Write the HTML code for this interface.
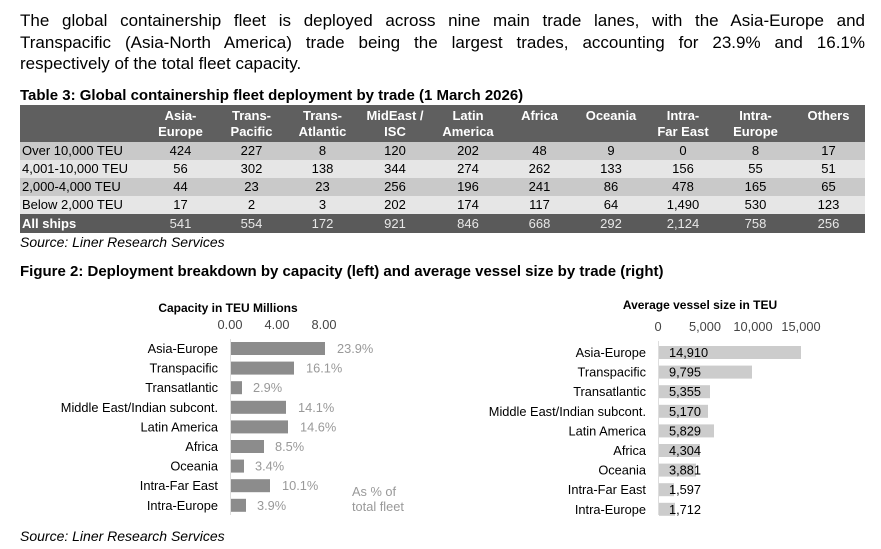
<!DOCTYPE html>
<html><head><style>
body{margin:0;width:881px;height:549px;background:#fff;font-family:"Liberation Sans",Arial,sans-serif;position:relative;overflow:hidden;color:#000}
.p{position:absolute;left:20px;top:10px;width:845px;font-size:17px;line-height:21.5px}
.p div{text-align:justify;text-align-last:justify;white-space:nowrap}
.p div.l{text-align-last:left}
.t{position:absolute;white-space:nowrap}
table{position:absolute;left:20px;top:105px;width:845px;border-collapse:collapse;font-size:13px}
td{padding:0;text-align:center;height:18px;line-height:18px}
td:first-child{text-align:left;padding-left:2px}
tr.h td{background:#5f5f5f;color:#fff;font-weight:bold;height:37px;line-height:16px;vertical-align:middle}
tr.a td{background:#c9c9c9}
tr.b td{background:#e6e6e6}
tr.f td{background:#5a5a5a;color:#e8e8e8;height:19px}
tr.f td:first-child{font-weight:bold;color:#fff}
</style></head><body>
<div class="p"><div>The global containership fleet is deployed across nine main trade lanes, with the Asia-Europe and</div><div>Transpacific (Asia-North America) trade being the largest trades, accounting for 23.9% and 16.1%</div><div class="l">respectively of the total fleet capacity.</div></div>
<div class="t" style="left:20px;top:87px;font-size:15px;font-weight:bold">Table 3: Global containership fleet deployment by trade (1 March 2026)</div>
<table>
<colgroup><col style="width:125px"><col style="width:71px"><col style="width:71px"><col style="width:71px"><col style="width:74px"><col style="width:72px"><col style="width:71px"><col style="width:72px"><col style="width:72px"><col style="width:73px"><col></colgroup>
<tr class="h"><td></td><td>Asia-<br>Europe</td><td>Trans-<br>Pacific</td><td>Trans-<br>Atlantic</td><td>MidEast /<br>ISC</td><td>Latin<br>America</td><td>Africa<br>&nbsp;</td><td>Oceania<br>&nbsp;</td><td>Intra-<br>Far East</td><td>Intra-<br>Europe</td><td>Others<br>&nbsp;</td></tr>
<tr class="a"><td>Over 10,000 TEU</td><td>424</td><td>227</td><td>8</td><td>120</td><td>202</td><td>48</td><td>9</td><td>0</td><td>8</td><td>17</td></tr>
<tr class="b"><td>4,001-10,000 TEU</td><td>56</td><td>302</td><td>138</td><td>344</td><td>274</td><td>262</td><td>133</td><td>156</td><td>55</td><td>51</td></tr>
<tr class="a"><td>2,000-4,000 TEU</td><td>44</td><td>23</td><td>23</td><td>256</td><td>196</td><td>241</td><td>86</td><td>478</td><td>165</td><td>65</td></tr>
<tr class="b"><td>Below 2,000 TEU</td><td>17</td><td>2</td><td>3</td><td>202</td><td>174</td><td>117</td><td>64</td><td>1,490</td><td>530</td><td>123</td></tr>
<tr class="f"><td>All ships</td><td>541</td><td>554</td><td>172</td><td>921</td><td>846</td><td>668</td><td>292</td><td>2,124</td><td>758</td><td>256</td></tr>
</table>
<div class="t" style="left:20px;top:234px;font-size:14px;font-style:italic">Source: Liner Research Services</div>
<div class="t" style="left:20px;top:263px;font-size:15px;font-weight:bold">Figure 2: Deployment breakdown by capacity (left) and average vessel size by trade (right)</div>
<svg style="position:absolute;left:0;top:0" width="881" height="549" font-family="Liberation Sans, Arial, sans-serif" font-size="12.8">
<text x="228" y="312" text-anchor="middle" font-weight="bold" font-size="12">Capacity in TEU Millions</text>
<g fill="#444" text-anchor="middle"><text x="230" y="329">0.00</text><text x="277" y="329">4.00</text><text x="324" y="329">8.00</text></g>
<line x1="230.5" y1="339" x2="230.5" y2="515" stroke="#ddd"/>
<g fill="#8c8c8c">
<rect x="231" y="342" width="94" height="13"/><rect x="231" y="361.6" width="63" height="13"/><rect x="231" y="381.2" width="11" height="13"/>
<rect x="231" y="400.8" width="55" height="13"/><rect x="231" y="420.4" width="57" height="13"/><rect x="231" y="440" width="33" height="13"/>
<rect x="231" y="459.6" width="13" height="13"/><rect x="231" y="479.2" width="39" height="13"/><rect x="231" y="498.8" width="15" height="13"/></g>
<g text-anchor="end"><text x="218" y="353">Asia-Europe</text><text x="218" y="372.6">Transpacific</text><text x="218" y="392.2">Transatlantic</text>
<text x="218" y="411.8">Middle East/Indian subcont.</text><text x="218" y="431.4">Latin America</text><text x="218" y="451">Africa</text>
<text x="218" y="470.6">Oceania</text><text x="218" y="490.2">Intra-Far East</text><text x="218" y="509.8">Intra-Europe</text></g>
<g fill="#999"><text x="337" y="353">23.9%</text><text x="306" y="372.6">16.1%</text><text x="253" y="392.2">2.9%</text>
<text x="298" y="411.8">14.1%</text><text x="300" y="431.4">14.6%</text><text x="275" y="451">8.5%</text>
<text x="255" y="470.6">3.4%</text><text x="282" y="490.2">10.1%</text><text x="257" y="509.8">3.9%</text>
<text x="352" y="496">As % of</text><text x="352" y="511">total fleet</text></g>
<text x="700" y="309" text-anchor="middle" font-weight="bold" font-size="12">Average vessel size in TEU</text>
<g fill="#444" text-anchor="middle"><text x="658" y="331">0</text><text x="705" y="331">5,000</text><text x="753" y="331">10,000</text><text x="801" y="331">15,000</text></g>
<line x1="658.5" y1="341" x2="658.5" y2="515" stroke="#ddd"/>
<g fill="#cccccc">
<rect x="659" y="346" width="142" height="13"/><rect x="659" y="365.6" width="93" height="13"/><rect x="659" y="385.2" width="51" height="13"/>
<rect x="659" y="404.8" width="49" height="13"/><rect x="659" y="424.4" width="55" height="13"/><rect x="659" y="444" width="41" height="13"/>
<rect x="659" y="463.6" width="37" height="13"/><rect x="659" y="483.2" width="15" height="13"/><rect x="659" y="502.8" width="16" height="13"/></g>
<g text-anchor="end"><text x="646" y="357">Asia-Europe</text><text x="646" y="376.6">Transpacific</text><text x="646" y="396.2">Transatlantic</text>
<text x="646" y="415.8">Middle East/Indian subcont.</text><text x="646" y="435.4">Latin America</text><text x="646" y="455">Africa</text>
<text x="646" y="474.6">Oceania</text><text x="646" y="494.2">Intra-Far East</text><text x="646" y="513.8">Intra-Europe</text></g>
<g><text x="669" y="357">14,910</text><text x="669" y="376.6">9,795</text><text x="669" y="396.2">5,355</text>
<text x="669" y="415.8">5,170</text><text x="669" y="435.4">5,829</text><text x="669" y="455">4,304</text>
<text x="669" y="474.6">3,881</text><text x="669" y="494.2">1,597</text><text x="669" y="513.8">1,712</text></g>
</svg>
<div class="t" style="left:20px;top:528px;font-size:14px;font-style:italic">Source: Liner Research Services</div>
</body></html>
